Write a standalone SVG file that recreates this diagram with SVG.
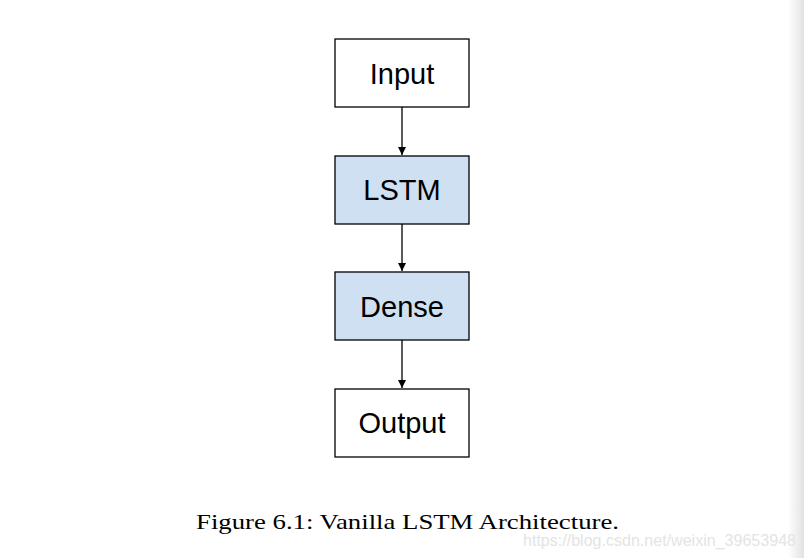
<svg xmlns="http://www.w3.org/2000/svg" width="804" height="558" viewBox="0 0 804 558">
<defs>
<linearGradient id="edge" x1="0" x2="1" y1="0" y2="0">
<stop offset="0" stop-color="#ffffff"/>
<stop offset="1" stop-color="#e2e2e2"/>
</linearGradient>
<marker id="arr" viewBox="0 0 10 10" refX="10" refY="5" markerWidth="8" markerHeight="8" markerUnits="userSpaceOnUse" orient="auto">
<path d="M0,0 L10,5 L0,10 z" fill="#000"/>
</marker>
<style>
.box{stroke:#000;stroke-width:1.3}
.plain{fill:#fff}
.blue{fill:#cfe0f2}
.lbl{font-family:"Liberation Sans",Arial,sans-serif;font-size:29px;fill:#000;text-anchor:middle}
.edge{stroke:#000;stroke-width:1.3;fill:none;marker-end:url(#arr)}
</style>
</defs>
<rect width="804" height="558" fill="#fff"/>
<rect x="788" y="0" width="16" height="558" fill="url(#edge)"/>
<g id="connectors">
<line class="edge" x1="402" y1="107" x2="402" y2="155"/>
<line class="edge" x1="402" y1="224" x2="402" y2="271"/>
<line class="edge" x1="402" y1="340" x2="402" y2="388"/>
</g>
<g id="input"><rect class="box plain" x="335" y="39" width="134" height="68"/><text class="lbl" x="402" y="84">Input</text></g>
<g id="lstm"><rect class="box blue" x="335" y="156" width="134" height="68"/><text class="lbl" x="402" y="200">LSTM</text></g>
<g id="dense"><rect class="box blue" x="335" y="272" width="134" height="68"/><text class="lbl" x="402" y="317">Dense</text></g>
<g id="output"><rect class="box plain" x="335" y="389" width="134" height="68"/><text class="lbl" x="402" y="433">Output</text></g>
<text x="196" y="529" font-family="Liberation Serif,'Times New Roman',serif" font-size="22" fill="#000" textLength="423" lengthAdjust="spacingAndGlyphs">Figure 6.1: Vanilla LSTM Architecture.</text>
<text x="523" y="546" font-family="Liberation Sans,Arial,sans-serif" font-size="16" fill="#e4e4e4" textLength="273" lengthAdjust="spacingAndGlyphs">https://blog.csdn.net/weixin_39653948</text>
</svg>
